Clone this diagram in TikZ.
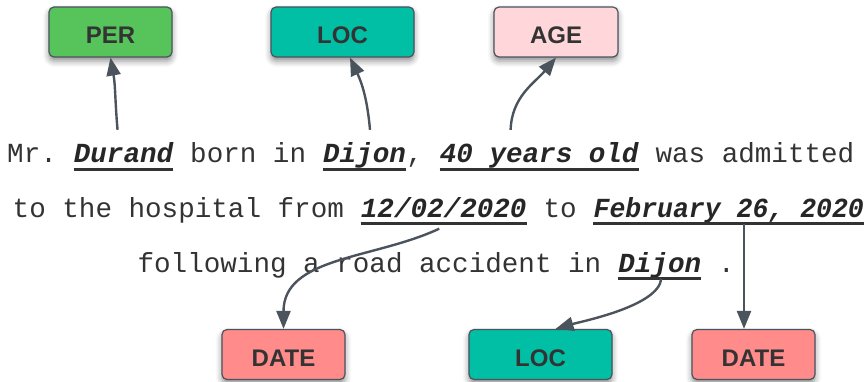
\documentclass[tikz,border=0pt]{standalone}
\usepackage{fontspec}
\usetikzlibrary{arrows.meta,shadows.blur}
\newfontfamily\sentfont{Liberation Mono}
\newfontfamily\tagfont{Liberation Sans}
\definecolor{perclr}{HTML}{57C35B}
\definecolor{locclr}{HTML}{00BFA5}
\definecolor{ageclr}{HTML}{FFD7DA}
\definecolor{dateclr}{HTML}{FF8B8B}
\definecolor{edgeclr}{HTML}{4B535D}
\definecolor{inkclr}{HTML}{333333}
\begin{document}
\begin{tikzpicture}[x=1pt,y=-1pt,
  tag/.style={draw=edgeclr,line width=1.2pt,rounded corners=5pt,minimum height=50pt,inner sep=0pt,
    text height=24pt,text depth=0pt,text=black!80,font=\tagfont\bfseries\fontsize{24}{24}\selectfont,
    blur shadow={shadow xshift=0pt,shadow yshift=-4pt,shadow blur radius=6pt,shadow opacity=45}},
  word/.style={anchor=base west,inner sep=0pt,text height=33pt,text depth=6.5pt,text=inkclr,
    font=\sentfont\fontsize{27.6}{30}\selectfont},
  ent/.style={word,text=black!85,font=\sentfont\bfseries\itshape\fontsize{27.6}{30}\selectfont},
  link/.style={edgeclr,line width=2.4pt,-{Triangle[length=18pt,width=14pt]}},
  uline/.style={inkclr,line width=2.5pt}]

\useasboundingbox (0,0) rectangle (864,382);

% The sentence, line by line
\node[word] (la) at (7,163) {Mr.~\null};
\node[ent] (durand) at (la.base east) {Durand};
\node[word] (lb) at (durand.base east) {~born in~\null};
\node[ent] (dijon) at (lb.base east) {Dijon};
\node[word] (lc) at (dijon.base east) {,~\null};
\node[ent] (forty) at (lc.base east) {40 years old};
\node[word] (ld) at (forty.base east) {~was admitted};

\node[word] (le) at (12.5,217) {to the hospital from~\null};
\node[ent] (fromdate) at (le.base east) {12/02/2020};
\node[word] (lf) at (fromdate.base east) {~to~\null};
\node[ent] (todate) at (lf.base east) {\scalebox{0.96}[1]{February 26, 2020}};

\node[word] (lg) at (137.4,272) {following a road accident in~\null};
\node[ent] (dijonb) at (lg.base east) {Dijon};
\node[word] (lh) at (dijonb.base east) {~.};

% The underlines
\foreach \n in {durand,dijon,forty,fromdate,todate,dijonb}
	\draw[uline] (\n.south west) -- (\n.south east);

% The tags
\node[tag,fill=perclr,minimum width=123pt] (tper) at (110.5,32) {PER};
\node[tag,fill=locclr,minimum width=143pt] (tloc) at (342.5,32) {LOC};
\node[tag,fill=ageclr,minimum width=124pt] (tage) at (556,32) {AGE};
\node[tag,fill=dateclr,minimum width=123pt] (tdate) at (283.5,354.5) {DATE};
\node[tag,fill=locclr,minimum width=143pt] (tlocb) at (540.5,354.5) {LOC};
\node[tag,fill=dateclr,minimum width=123pt] (tdateb) at (753.5,354.5) {DATE};

% The links
\draw[link] ([xshift=-6pt]durand.north) to[out=95,in=-80] (tper.south);
\draw[link] ([xshift=5.5pt]dijon.north) to[out=95,in=-65] ([xshift=7.5pt]tloc.south);
\draw[link] ([xshift=-28.6pt]forty.north) to[out=88,in=-130] (tage.south);
\draw[link] ([xshift=-4.5pt,yshift=-5pt]fromdate.south) to[out=-155,in=90] (tdate.north);
\draw[link] ([xshift=1.5pt]dijonb.south) to[out=-95,in=16,looseness=0.6] ([xshift=15pt]tlocb.north);
\coordinate (drop) at ([xshift=-9.5pt]tdateb.north);
\draw[link] (drop |- todate.south) -- (drop);

\end{tikzpicture}
\end{document}
